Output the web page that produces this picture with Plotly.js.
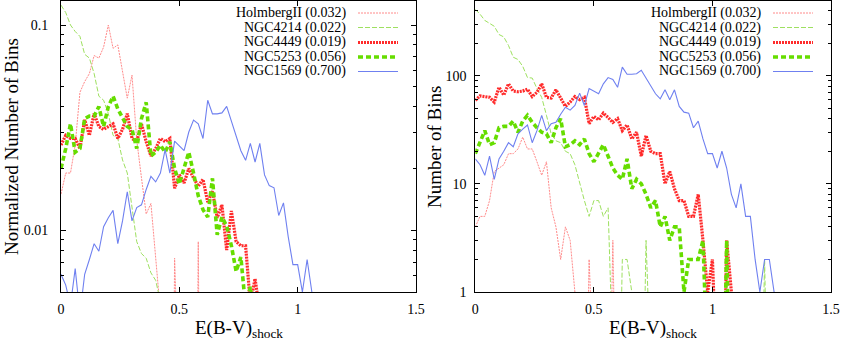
<!DOCTYPE html>
<html>
<head>
<meta charset="utf-8">
<script src="https://cdn.plot.ly/plotly-3.0.1.min.js"></script>
<style>
  body { margin: 0; background: #fff; }
  #plotArea { width: 842px; height: 346px; }
</style>
</head>
<body>
<div id="plotArea"></div>
<script>
// E(B-V)_shock bins, width 0.02
var ebv = [0, 0.02, 0.04, 0.06, 0.08, 0.1, 0.12, 0.14, 0.16, 0.18, 0.2, 0.22, 0.24, 0.26, 0.28, 0.3,
  0.32, 0.34, 0.36, 0.38, 0.4, 0.42, 0.44, 0.46, 0.48, 0.5, 0.52, 0.54, 0.56, 0.58, 0.6, 0.62,
  0.64, 0.66, 0.68, 0.7, 0.72, 0.74, 0.76, 0.78, 0.8, 0.82, 0.84, 0.86, 0.88, 0.9, 0.92, 0.94,
  0.96, 0.98, 1, 1.02, 1.04, 1.06, 1.08, 1.1, 1.12, 1.14, 1.16, 1.18, 1.2, 1.22, 1.24, 1.26, 1.28];

var names = ["HolmbergII (0.032)", "NGC4214 (0.022)", "NGC4449 (0.019)", "NGC5253 (0.056)", "NGC1569 (0.700)"];

// left panel: normalized number of bins
var holmNorm = [0.015, 0.019, 0.019, 0.026, 0.047, 0.053, 0.058, 0.071, 0.069, 0.078, 0.100, 0.077, 0.080,
  0.059, 0.044, 0.057, 0.0275, 0.018, 0.012, 0.0135, 0.0071, 0.004, 0, 0, 0.0073, 0, 0, 0, 0, 0.0088, 0];
var n4214Norm = [0.125, 0.115, 0.100, 0.093, 0.088, 0.072, 0.069, 0.058, 0.045, 0.043, 0.037, 0.029, 0.028,
  0.022, 0.019, 0.013, 0.0088, 0.0077, 0.0073, 0.0062, 0.0057, 0.0045, 0.003];
var n4449Norm = [0.026, 0.029, 0.028, 0.028, 0.025, 0.0345, 0.029, 0.037, 0.032, 0.031, 0.032, 0.033, 0.028,
  0.031, 0.037, 0.028, 0.027, 0.033, 0.027, 0.023, 0.025, 0.028, 0.027, 0.028, 0.016, 0.0186, 0.017, 0.020,
  0.018, 0.0164, 0.0177, 0.0137, 0.0155, 0.0115, 0.0133, 0.008, 0.0124, 0.0088, 0.0084, 0.0084, 0.0044,
  0.0058, 0.004, 0.0031];
var n5253Norm = [0.020, 0.025, 0.033, 0.024, 0.025, 0.035, 0.036, 0.036, 0.040, 0.032, 0.040, 0.045, 0.039,
  0.035, 0.032, 0.031, 0.025, 0.035, 0.042, 0.023, 0.024, 0.026, 0.024, 0.027, 0.020, 0.0168, 0.020, 0.024,
  0.019, 0.0147, 0.0126, 0.0116, 0.0179, 0.0095, 0.0116, 0.0105, 0.0084, 0.0063, 0.0074, 0.0042, 0.0053, 0.0032];
var n1569Norm = [0.0061, 0.0054, 0.0043, 0.0065, 0.0039, 0.0061, 0.0072, 0.0086, 0.0079, 0.0104, 0.0115,
  0.0125, 0.0086, 0.0111, 0.0154, 0.0111, 0.0129, 0.0133, 0.0158, 0.0183, 0.0172, 0.019, 0.0247, 0.019,
  0.0272, 0.0258, 0.0244, 0.0301, 0.0344, 0.033, 0.028, 0.043, 0.0369, 0.0369, 0.0373, 0.0401, 0.034,
  0.0287, 0.0244, 0.0219, 0.0265, 0.0215, 0.0265, 0.0186, 0.0165, 0.0161, 0.0118, 0.0136, 0.0093, 0.0068,
  0.0068, 0.005, 0.0072, 0.005, 0.0029, 0.0022];

// right panel: number of bins
var holmCount = [4, 5, 5, 7, 13, 14, 15, 19, 19, 21, 27, 21, 21, 16, 12, 16, 6, 4, 2, 4, 3, 1, 0, 0, 2, 0, 0, 0, 0, 3, 0];
var n4214Count = [410, 370, 324, 302, 286, 240, 228, 190, 148, 141, 122, 96, 95, 76, 63, 43, 29, 25, 24, 20, 19,
  15, 10, 7, 5, 7, 7, 5, 6, 0, 0, 2, 2, 1, 0, 0, 3, 0, 0, 0, 0, 0, 0, 0, 0, 0, 0, 0, 0, 0, 0, 0, 0, 0, 0, 0,
  0, 0, 0, 0, 0, 2, 0];
var n4449Count = [59, 65, 64, 63, 57, 78, 66, 84, 72, 71, 72, 75, 64, 70, 84, 63, 62, 74, 62, 52, 57, 64, 60, 63,
  36, 42, 39, 45, 41, 37, 40, 31, 35, 26, 30, 18, 28, 20, 19, 19, 10, 13, 9, 7, 7, 5, 5, 8, 3, 1, 2, 0, 0, 3, 1, 0];
var n5253Count = [19, 24, 31, 23, 24, 33, 34, 34, 38, 30, 38, 43, 37, 33, 30, 29, 24, 33, 40, 22, 23, 25, 23, 26,
  19, 16, 19, 23, 18, 14, 12, 11, 17, 9, 11, 10, 8, 6, 7, 4, 5, 3, 4, 4, 1, 2, 2, 2, 3, 0, 0, 0, 0, 3, 0];
var n1569Count = [17, 15, 12, 18, 11, 17, 20, 24, 22, 29, 32, 35, 24, 31, 43, 31, 36, 37, 44, 51, 48, 53, 69, 53,
  76, 72, 68, 84, 96, 92, 78, 120, 103, 103, 104, 112, 95, 80, 68, 61, 74, 60, 74, 52, 46, 45, 33, 38, 26, 19,
  19, 14, 20, 14, 8, 6, 10, 5, 5, 2, 1, 2, 2, 1, 0];

var styles = [
  {color: "#ff8a8a", width: 1, dash: "2px,1px"},
  {color: "#9ee060", width: 1, dash: "5px,2px"},
  {color: "#ff2b2b", width: 3.2, dash: "2px,1px"},
  {color: "#66dd00", width: 3.6, dash: "5px,3px"},
  {color: "#6f80f0", width: 1.1, dash: "solid"}
];

var leftSeries = [holmNorm, n4214Norm, n4449Norm, n5253Norm, n1569Norm];
var rightSeries = [holmCount, n4214Count, n4449Count, n5253Count, n1569Count];

// empty bins drop off the bottom of the log axis, as gnuplot draws them
function makeTrace(vals, i, floor, xa, ya) {
  return {
    x: ebv.slice(0, vals.length),
    y: vals.map(v => v > 0 ? v : floor),
    xaxis: xa, yaxis: ya,
    type: "scatter", mode: "lines",
    line: styles[i],
    name: names[i],
    hoverinfo: "skip"
  };
}

var data = [];
leftSeries.forEach((s, i) => data.push(makeTrace(s, i, 1e-5, "x", "y")));
rightSeries.forEach((s, i) => data.push(makeTrace(s, i, 1e-2, "x2", "y2")));

var W = 842, H = 346;
var font = {family: "Liberation Serif, Times New Roman, serif", size: 14, color: "#000"};
var bigFont = {family: "Liberation Serif, Times New Roman, serif", size: 19, color: "#000"};

var frame = {
  showline: true, linecolor: "#000", linewidth: 1, mirror: "allticks",
  ticks: "inside", ticklen: 5, tickcolor: "#000", showgrid: false, zeroline: false,
  tickfont: font
};

function xAxis(dom, anchor) {
  return Object.assign({}, frame, {
    domain: dom, anchor: anchor, range: [0, 1.5],
    tickmode: "array", tickvals: [0, 0.5, 1, 1.5], ticktext: ["0", "0.5", "1", "1.5"],
    ticklabelstandoff: 4
  });
}

var yTop = 1 - 1 / H, yBot = 1 - 292 / H;

var layout = {
  width: W, height: H,
  margin: {l: 0, r: 0, t: 0, b: 0},
  paper_bgcolor: "#fff", plot_bgcolor: "#fff",
  showlegend: false,
  xaxis: xAxis([61 / W, 416 / W], "y"),
  xaxis2: xAxis([475.3 / W, 831 / W], "y2"),
  yaxis: Object.assign({}, frame, {
    domain: [yBot, yTop], anchor: "x", type: "log", range: [-2.301, -0.883],
    tickmode: "array", tickvals: [0.01, 0.1], ticktext: ["0.01", "0.1"],
    ticklabelstandoff: 9,
    minor: {ticks: "inside", ticklen: 3, tickcolor: "#000",
      tickvals: [0.005, 0.006, 0.007, 0.008, 0.009, 0.02, 0.03, 0.04, 0.05, 0.06, 0.07, 0.08, 0.09]}
  }),
  yaxis2: Object.assign({}, frame, {
    domain: [yBot, yTop], anchor: "x2", type: "log", range: [0, 2.69],
    tickmode: "array", tickvals: [1, 10, 100], ticktext: ["1", "10", "100"],
    ticklabelstandoff: 5,
    minor: {ticks: "inside", ticklen: 3, tickcolor: "#000",
      tickvals: [2, 3, 4, 5, 6, 7, 8, 9, 20, 30, 40, 50, 60, 70, 80, 90, 200, 300, 400]}
  }),
  annotations: [],
  shapes: []
};

function note(text, x, y, extra) {
  return Object.assign({text: text, x: x / W, y: 1 - y / H, xref: "paper", yref: "paper",
    xanchor: "center", yanchor: "middle", showarrow: false, font: bigFont}, extra || {});
}

// axis titles
layout.annotations.push(
  note("Normalized Number of Bins", 11, 147, {textangle: -90}),
  note("Number of Bins", 434, 147, {textangle: -90}),
  note("E(B-V)<sub>shock</sub>", 238.5, 329),
  note("E(B-V)<sub>shock</sub>", 653, 329)
);

// gnuplot style keys: label right-aligned, sample line to its right
var rows = [13, 27.5, 42.5, 57, 71.5];
[[348, 358, 398], [763, 773, 813]].forEach(function (k) {
  names.forEach(function (n, i) {
    layout.annotations.push(note(n, k[0], rows[i], {xanchor: "right", font: font}));
    var yy = 1 - rows[i] / H;
    layout.shapes.push({type: "line", xref: "paper", yref: "paper", x0: k[1] / W, x1: k[2] / W, y0: yy, y1: yy,
      line: styles[i]});
  });
});

Plotly.newPlot("plotArea", data, layout, {staticPlot: true});
</script>
</body>
</html>
